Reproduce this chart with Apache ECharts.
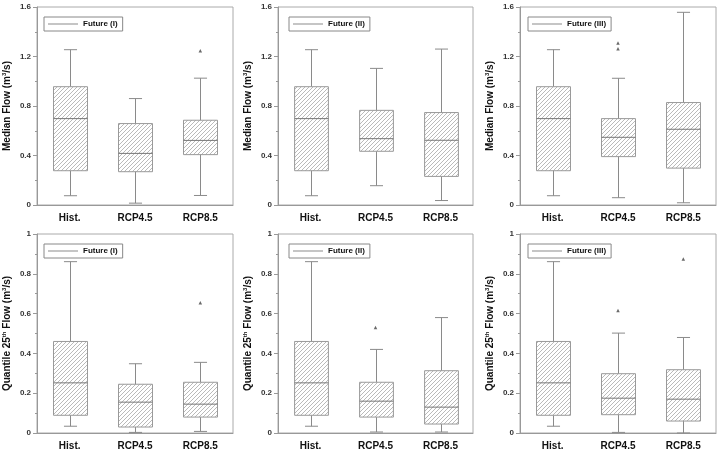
<!DOCTYPE html>
<html>
<head>
<meta charset="utf-8">
<script src="https://cdn.jsdelivr.net/npm/echarts@6/dist/echarts.min.js"></script>
<style>
  html, body { margin: 0; padding: 0; background: #fff; }
  #main { width: 718px; height: 454px; }
</style>
</head>
<body>
<div id="main"></div>
<script>
    // categories on the x axis
    var categories = ['Hist.', 'RCP4.5', 'RCP8.5'];

    // each box: [min, Q1, median, Q3, max]
    var histMedian = [0.075, 0.277, 0.698, 0.956, 1.255];
    var medianI   = [histMedian, [0.015, 0.269, 0.417, 0.658, 0.860], [0.077, 0.407, 0.522, 0.685, 1.025]];
    var medianII  = [histMedian, [0.156, 0.434, 0.536, 0.765, 1.104], [0.036, 0.231, 0.523, 0.747, 1.260]];
    var medianIII = [histMedian, [0.059, 0.391, 0.547, 0.698, 1.024], [0.018, 0.298, 0.612, 0.828, 1.557]];

    var histQ25 = [0.034, 0.089, 0.252, 0.460, 0.861];
    var q25I   = [histQ25, [0.003, 0.030, 0.155, 0.245, 0.348], [0.008, 0.080, 0.145, 0.255, 0.355]];
    var q25II  = [histQ25, [0.005, 0.080, 0.160, 0.255, 0.420], [0.005, 0.045, 0.130, 0.313, 0.580]];
    var q25III = [histQ25, [0.003, 0.092, 0.175, 0.298, 0.502], [0.000, 0.060, 0.170, 0.318, 0.480]];

    // outliers: [category index, value]
    var outMedianI = [[2, 1.246]];
    var outMedianII = [];
    var outMedianIII = [[1, 1.309], [1, 1.263]];
    var outQ25I = [[2, 0.655]];
    var outQ25II = [[1, 0.530]];
    var outQ25III = [[1, 0.615], [2, 0.875]];

    var futureNames = ['Future (I)', 'Future (II)', 'Future (III)'];
    var medianTicks = {max: 1.6, interval: 0.4};
    var q25Ticks = {max: 1, interval: 0.2};

    var FONT = '"Liberation Sans", Arial, sans-serif';

    /*斜线填充图案*/
    function makeHatch() {
        var c = document.createElement('canvas');
        c.width = 4; c.height = 4;
        var ctx = c.getContext('2d');
        ctx.strokeStyle = '#a8a8a8';
        ctx.lineWidth = 0.8;
        ctx.beginPath();
        ctx.moveTo(0, 4); ctx.lineTo(4, 0);
        ctx.moveTo(-1, 1); ctx.lineTo(1, -1);
        ctx.moveTo(3, 5); ctx.lineTo(5, 3);
        ctx.stroke();
        return c;
    }
    var hatch = {image: makeHatch(), repeat: 'repeat'};

    function renderBox(params, api) {
        var x = api.value(0);
        var lo = api.coord([x, api.value(1)]);
        var q1 = api.coord([x, api.value(2)]);
        var md = api.coord([x, api.value(3)]);
        var q3 = api.coord([x, api.value(4)]);
        var hi = api.coord([x, api.value(5)]);
        var band = api.size([1, 0])[0];
        var bw = band * 0.52, cw = band * 0.2;
        var cx = Math.round(lo[0]) + 0.5;
        var ls = {stroke: '#8a8a8a', lineWidth: 1};
        return {
            type: 'group',
            children: [
                {type: 'line', shape: {x1: cx, y1: q3[1], x2: cx, y2: hi[1]}, style: ls},
                {type: 'line', shape: {x1: cx - cw / 2, y1: hi[1], x2: cx + cw / 2, y2: hi[1]}, style: ls},
                {type: 'line', shape: {x1: cx, y1: q1[1], x2: cx, y2: lo[1]}, style: ls},
                {type: 'line', shape: {x1: cx - cw / 2, y1: lo[1], x2: cx + cw / 2, y2: lo[1]}, style: ls},
                {type: 'rect', shape: {x: cx - bw / 2, y: q3[1], width: bw, height: q1[1] - q3[1]},
                    style: {fill: hatch, stroke: '#999', lineWidth: 1}},
                {type: 'line', shape: {x1: cx - bw / 2, y1: md[1], x2: cx + bw / 2, y2: md[1]},
                    style: {stroke: '#777', lineWidth: 1}}
            ]
        };
    }

    var panels = [
        {boxes: medianI, out: outMedianI, name: futureNames[0], ticks: medianTicks, row: 0, col: 0},
        {boxes: medianII, out: outMedianII, name: futureNames[1], ticks: medianTicks, row: 0, col: 1},
        {boxes: medianIII, out: outMedianIII, name: futureNames[2], ticks: medianTicks, row: 0, col: 2},
        {boxes: q25I, out: outQ25I, name: futureNames[0], ticks: q25Ticks, row: 1, col: 0},
        {boxes: q25II, out: outQ25II, name: futureNames[1], ticks: q25Ticks, row: 1, col: 1},
        {boxes: q25III, out: outQ25III, name: futureNames[2], ticks: q25Ticks, row: 1, col: 2}
    ];

    var colLeft = [36, 278, 520];
    var colWidth = [197, 195, 196];
    var rowTop = [7, 234];
    var rowHeight = [198, 199];
    var legendLeft = [44, 289, 528];

    var grids = [], xAxes = [], yAxes = [], series = [], legends = [];
    var nameMedian = '{n|Median Flow (m}{s|3}{n|/s)}';
    var nameQ25 = '{n|Quantile 25}{s|th}{n| Flow (m}{s|3}{n|/s)}';

    panels.forEach(function (p, i) {
        grids.push({
            left: colLeft[p.col], top: rowTop[p.row], width: colWidth[p.col], height: rowHeight[p.row],
            show: true, borderColor: '#aaa', borderWidth: 1, backgroundColor: '#fff'
        });
        xAxes.push({
            type: 'category', gridIndex: i, data: categories,
            axisLine: {lineStyle: {color: '#999'}},
            axisTick: {alignWithLabel: true, length: 4, lineStyle: {color: '#999'}},
            axisLabel: {color: '#111', fontWeight: 'bold', fontSize: 10, fontFamily: FONT, margin: 8},
            splitLine: {show: false}
        });
        yAxes.push({
            type: 'value', gridIndex: i, min: 0, max: p.ticks.max, interval: p.ticks.interval,
            name: p.row === 0 ? nameMedian : nameQ25,
            nameLocation: 'middle', nameGap: 24,
            nameTextStyle: {
                rich: {
                    n: {fontSize: 10, fontWeight: 'bold', fontFamily: FONT, color: '#111', lineHeight: 12},
                    s: {fontSize: 6, fontWeight: 'bold', fontFamily: FONT, color: '#111', lineHeight: 6, verticalAlign: 'top'}
                }
            },
            axisLine: {show: true, lineStyle: {color: '#999'}},
            axisTick: {show: true, length: 4, lineStyle: {color: '#999'}},
            minorTick: {show: true, splitNumber: 2, length: 2, lineStyle: {color: '#999'}},
            axisLabel: {color: '#333', fontWeight: 'bold', fontSize: 8, fontFamily: FONT, margin: 6},
            splitLine: {show: false}
        });
        series.push({
            name: p.name,
            type: 'custom',
            xAxisIndex: i, yAxisIndex: i,
            renderItem: renderBox,
            itemStyle: {color: '#8a8a8a'},
            encode: {x: 0, y: [1, 2, 3, 4, 5]},
            data: p.boxes.map(function (b, k) { return [k].concat(b); }),
            z: 2
        });
        series.push({
            name: 'outlier' + i,
            type: 'scatter',
            xAxisIndex: i, yAxisIndex: i,
            symbol: 'triangle', symbolSize: 3.5,
            itemStyle: {color: '#444'},
            data: p.out,
            z: 3
        });
        legends.push({
            data: [p.name],
            left: legendLeft[p.col], top: rowTop[p.row] + 10,
            orient: 'vertical',
            padding: [3, 5, 3, 4],
            itemWidth: 30, itemHeight: 1, icon: 'rect',
            itemGap: 0,
            borderColor: '#888', borderWidth: 1, borderRadius: 0,
            backgroundColor: '#fff',
            selectedMode: false,
            textStyle: {color: '#111', fontWeight: 'bold', fontSize: 8, fontFamily: FONT}
        });
    });

    var chart = echarts.init(document.getElementById('main'));
    chart.setOption({
        animation: false,
        backgroundColor: '#fff',
        grid: grids,
        xAxis: xAxes,
        yAxis: yAxes,
        legend: legends,
        series: series
    });
</script>
</body>
</html>
